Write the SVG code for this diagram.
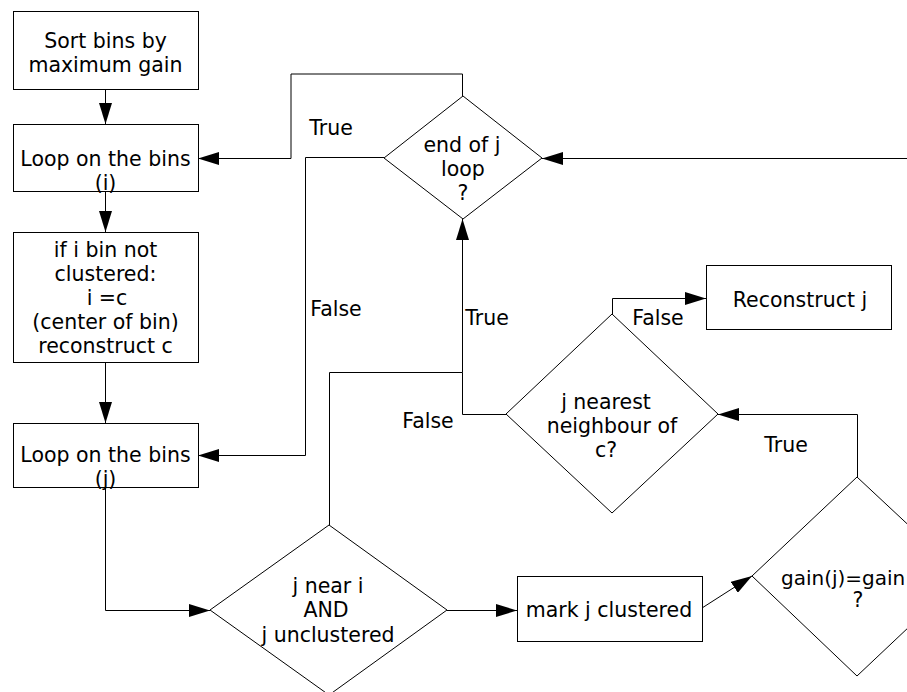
<svg xmlns="http://www.w3.org/2000/svg" width="907" height="692" viewBox="0 0 907 692">
<style>
.box{fill:#fff;stroke:#000;stroke-width:1}
.dia{fill:#fff;stroke:#000;stroke-width:1}
.c{fill:none;stroke:#000;stroke-width:1}
text{font-family:"DejaVu Sans","Liberation Sans",sans-serif;font-size:20.5px;fill:#000;text-anchor:middle}
</style>
<defs>
<marker id="ah" markerUnits="userSpaceOnUse" markerWidth="21" markerHeight="13" refX="21" refY="6.5" orient="auto">
<path d="M0,0 L21,6.5 L0,13 z" fill="#000"/>
</marker>
</defs>
<rect width="907" height="692" fill="#fff"/>
<g id="connectors">
<path class="c" d="M105.5,90 L105.5,124" marker-end="url(#ah)"/>
<path class="c" d="M105.5,192 L105.5,232" marker-end="url(#ah)"/>
<path class="c" d="M105.5,363 L105.5,423" marker-end="url(#ah)"/>
<path class="c" d="M105.5,488 L105.5,610.5 L210,610.5" marker-end="url(#ah)"/>
<path class="c" d="M462.5,96 L462.5,74 L291,74 L291,158.5 L198,158.5" marker-end="url(#ah)"/>
<path class="c" d="M384,157.5 L305.5,157.5 L305.5,455.5 L198,455.5" marker-end="url(#ah)"/>
<path class="c" d="M329.5,525 L329.5,372.5 L462.5,372.5 L462.5,219" marker-end="url(#ah)"/>
<path class="c" d="M506,414.5 L462.5,414.5 L462.5,372.5"/>
<path class="c" d="M612.5,314 L612.5,298.5 L706,298.5" marker-end="url(#ah)"/>
<path class="c" d="M857.5,477 L857.5,414.5 L718,414.5" marker-end="url(#ah)"/>
<path class="c" d="M447,610.5 L517,610.5" marker-end="url(#ah)"/>
<path class="c" d="M702,608 L752,576" marker-end="url(#ah)"/>
<path class="c" d="M907,158.5 L542,158.5" marker-end="url(#ah)"/>
</g>
<g id="labels">
<text x="331" y="135">True</text>
<text x="336" y="316">False</text>
<text x="487" y="325">True</text>
<text x="428" y="428">False</text>
<text x="658" y="325">False</text>
<text x="786" y="452">True</text>
</g>
<g id="sort">
<rect class="box" x="13.5" y="11.5" width="185" height="78"/>
<text x="105.5" y="48">Sort bins by</text>
<text x="105.5" y="72">maximum gain</text>
</g>
<g id="loop-i">
<rect class="box" x="13.5" y="124.5" width="185" height="67"/>
<text x="105.5" y="166">Loop on the bins</text>
<text x="105.5" y="190">(i)</text>
</g>
<g id="if-i">
<rect class="box" x="13.5" y="232.5" width="185" height="130"/>
<text x="105.5" y="257">if i bin not</text>
<text x="105.5" y="281">clustered:</text>
<text x="107" y="305">i =c</text>
<text x="105.5" y="329">(center of bin)</text>
<text x="105.5" y="353">reconstruct c</text>
</g>
<g id="loop-j">
<rect class="box" x="13.5" y="423.5" width="185" height="64"/>
<text x="105.5" y="462">Loop on the bins</text>
<text x="105.5" y="486">(j)</text>
</g>
<g id="end-j">
<polygon class="dia" points="463,96 542,158 463,219 384,158"/>
<text x="462" y="152">end of j</text>
<text x="463" y="176">loop</text>
<text x="463" y="200">?</text>
</g>
<g id="j-near">
<polygon class="dia" points="329,525 447,610 329,695 210,610"/>
<text x="328" y="593">j near i</text>
<text x="326" y="617">AND</text>
<text x="328" y="642">j unclustered</text>
</g>
<g id="j-nearest">
<polygon class="dia" points="612,314 718,414 612,513 506,414"/>
<text x="606" y="409">j nearest</text>
<text x="612" y="433">neighbour of</text>
<text x="606" y="457">c?</text>
</g>
<g id="reconstruct">
<rect class="box" x="706.5" y="265.5" width="185" height="64"/>
<text x="800" y="307">Reconstruct j</text>
</g>
<g id="mark">
<rect class="box" x="517.5" y="576.5" width="185" height="65"/>
<text x="609" y="617">mark j clustered</text>
</g>
<g id="gain">
<polygon class="dia" points="857,477 963,576 857,676 752,576"/>
<text x="781" y="585" style="text-anchor:start;font-size:20px">gain(j)=gain</text>
<text x="858" y="607">?</text>
</g>
</svg>
